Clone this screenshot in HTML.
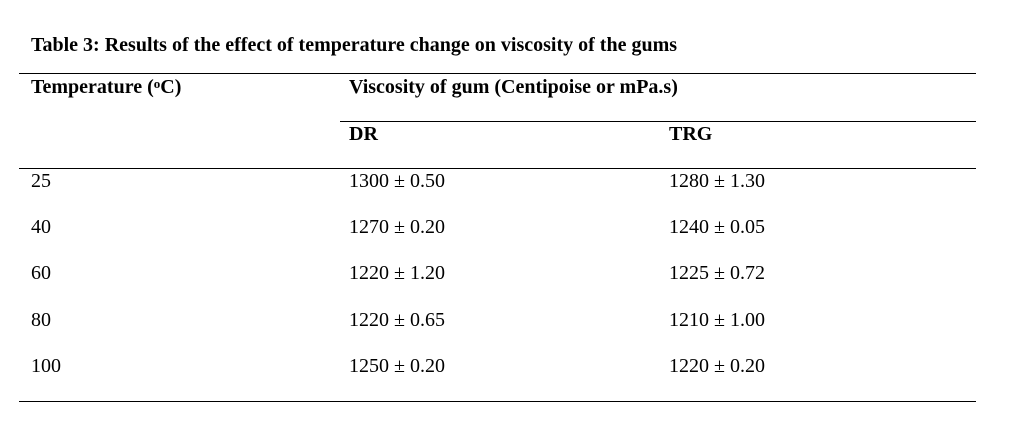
<!DOCTYPE html>
<html><head><meta charset="utf-8"><style>
body{margin:0;width:1018px;height:429px;background:#fff;position:relative;font-family:"Liberation Serif",serif;color:#000;overflow:hidden}
.t{position:absolute;font-size:20px;line-height:20px;white-space:nowrap}
.b{font-weight:bold}
.l{position:absolute;height:1px;background:#000}
sup{font-size:13px;vertical-align:top;position:relative;top:-3px}
</style></head><body>
<div class="t b" style="left:31px;top:35px">Table 3: Results of the effect of temperature change on viscosity of the gums</div>
<div class="l" style="left:19px;top:73px;width:957px"></div>
<div class="t b" style="left:31px;top:77px">Temperature (<sup>o</sup>C)</div>
<div class="t b" style="left:349px;top:77px">Viscosity of gum (Centipoise or mPa.s)</div>
<div class="l" style="left:340px;top:121px;width:636px"></div>
<div class="t b" style="left:349px;top:124px">DR</div>
<div class="t b" style="left:669px;top:124px">TRG</div>
<div class="l" style="left:19px;top:168px;width:957px"></div>
<div>
<div class="t" style="left:31px;top:171px">25</div>
<div class="t" style="left:349px;top:171px">1300 ± 0.50</div>
<div class="t" style="left:669px;top:171px">1280 ± 1.30</div>
<div class="t" style="left:31px;top:217px">40</div>
<div class="t" style="left:349px;top:217px">1270 ± 0.20</div>
<div class="t" style="left:669px;top:217px">1240 ± 0.05</div>
<div class="t" style="left:31px;top:263px">60</div>
<div class="t" style="left:349px;top:263px">1220 ± 1.20</div>
<div class="t" style="left:669px;top:263px">1225 ± 0.72</div>
<div class="t" style="left:31px;top:310px">80</div>
<div class="t" style="left:349px;top:310px">1220 ± 0.65</div>
<div class="t" style="left:669px;top:310px">1210 ± 1.00</div>
<div class="t" style="left:31px;top:356px">100</div>
<div class="t" style="left:349px;top:356px">1250 ± 0.20</div>
<div class="t" style="left:669px;top:356px">1220 ± 0.20</div>
</div>
<div class="l" style="left:19px;top:401px;width:957px"></div>
</body></html>
